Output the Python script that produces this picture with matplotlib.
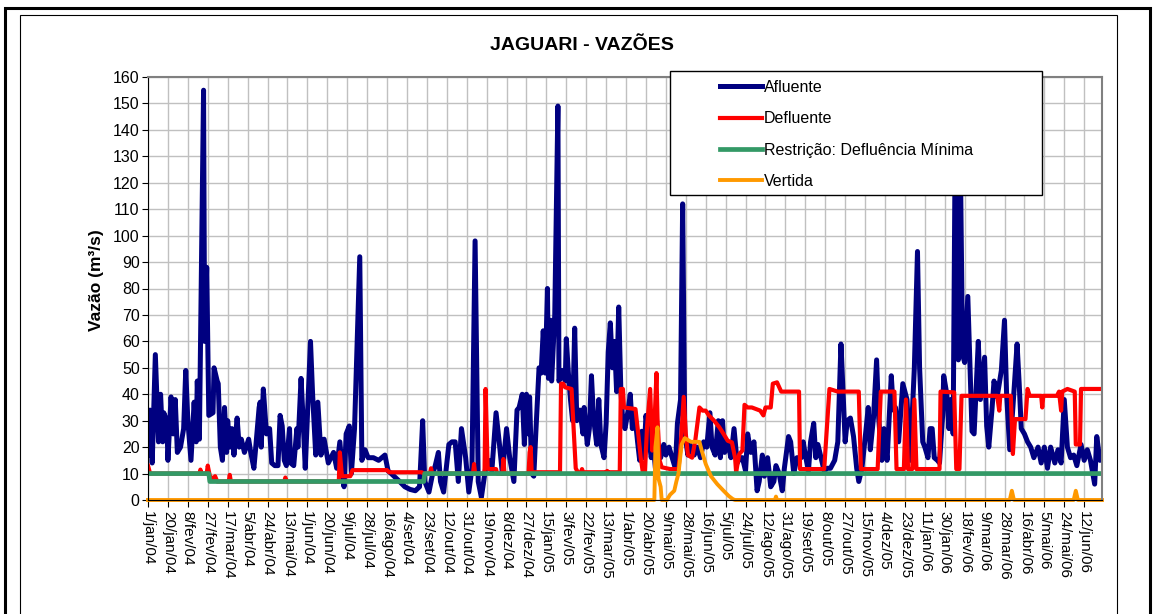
import matplotlib
matplotlib.use('Agg')
import matplotlib.pyplot as plt
from matplotlib.patches import Rectangle

plt.rcParams['font.family'] = ['Liberation Sans', 'DejaVu Sans']

# days counted from 1/jan/04, values in m3/s
af_day = [0, 2, 4, 7, 10, 12, 14, 15, 18, 19, 22, 24, 26, 28, 31, 34, 36, 38, 41, 44,
          46, 47, 49, 53, 54, 56, 58, 62, 63, 66, 67, 69, 71, 73, 75, 76, 78, 80, 82, 85,
          87, 89, 92, 96, 98, 101, 103, 106, 107, 108, 110, 113, 116, 118, 121, 124, 126, 128, 130, 132,
          135, 136, 139, 142, 143, 146, 148, 150, 155, 157, 160, 162, 165, 168, 172, 177, 180, 183, 186, 187,
          189, 192, 194, 197, 202, 204, 207, 210, 215, 220, 226, 229, 232, 240, 245, 250, 255, 259, 262, 264,
          268, 271, 274, 277, 279, 282, 287, 290, 293, 296, 299, 303, 306, 309, 312, 315, 318, 322, 325, 328,
          332, 335, 338, 342, 345, 349, 352, 354, 357, 359, 361, 363, 364, 366, 368, 370, 373, 375, 377, 379,
          381, 382, 384, 385, 388, 391, 392, 395, 398, 399, 401, 403, 405, 407, 409, 412, 415, 416, 419, 421,
          423, 425, 428, 430, 432, 435, 437, 439, 441, 443, 445, 447, 449, 451, 453, 455, 458, 460, 462, 464,
          467, 469, 471, 473, 475, 477, 480, 482, 484, 487, 489, 492, 494, 497, 500, 503, 505, 508, 510, 512,
          515, 517, 521, 524, 527, 530, 533, 536, 538, 541, 544, 546, 548, 550, 553, 556, 559, 562, 565, 567,
          570, 572, 575, 578, 581, 583, 586, 588, 591, 594, 597, 599, 602, 605, 607, 611, 613, 616, 619, 623,
          625, 627, 630, 632, 635, 637, 639, 642, 645, 648, 651, 655, 658, 661, 662, 665, 667, 670, 673, 676,
          678, 681, 685, 687, 689, 692, 695, 697, 700, 702, 705, 709, 711, 713, 716, 720, 722, 724, 726, 727,
          731, 734, 736, 739, 741, 744, 746, 748, 750, 753, 755, 758, 759, 762, 764, 766, 768, 770, 773, 775,
          777, 779, 782, 786, 788, 792, 794, 798, 800, 802, 805, 807, 810, 814, 817, 819, 822, 825, 829, 831,
          833, 836, 839, 842, 845, 849, 852, 855, 858, 861, 865, 868, 871, 874, 877, 880, 883, 886, 890, 893,
          896, 899, 903, 905, 908, 910]
af_val = [17, 34, 14, 55, 22, 40, 22, 33, 30, 15, 39, 25, 38, 18, 20, 27, 49, 30, 15, 37,
          22, 45, 23, 155, 60, 88, 32, 33, 50, 45, 44, 20, 15, 35, 18, 30, 20, 27, 17, 31,
          20, 23, 18, 23, 18, 12, 21, 35, 37, 20, 42, 25, 27, 14, 13, 13, 32, 28, 15, 13,
          27, 14, 13, 27, 20, 46, 30, 12, 60, 40, 17, 37, 17, 23, 14, 18, 12, 22, 8, 5,
          25, 28, 10, 27, 92, 15, 19, 16, 16, 15, 17, 11, 10, 7, 5, 4, 3.5, 5, 30, 7,
          3, 9, 13, 18, 7, 3, 21, 22, 22, 7, 27, 16, 3, 12, 98, 7, 1, 12, 15, 11,
          33, 22, 10, 27, 16, 7, 34, 35, 40, 21, 40, 25, 39, 10, 9, 26, 50, 48, 64, 48,
          80, 46, 68, 45, 70, 149, 45, 49, 45, 61, 48, 38, 30, 65, 30, 34, 25, 35, 21, 27,
          47, 31, 21, 38, 21, 16, 29, 56, 67, 50, 60, 41, 73, 42, 29, 27, 34, 40, 27, 34,
          22, 15, 26, 16, 32, 26, 16, 21, 12, 20, 16, 21, 17, 20, 16, 12, 29, 38, 112, 25,
          17, 21, 17, 20, 16, 22, 20, 33, 20, 17, 30, 16, 30, 18, 22, 16, 27, 14, 16, 16,
          11, 25, 18, 22, 3.5, 7, 17, 9, 16, 5, 7, 13, 10, 3.5, 12, 24, 22, 10, 16, 16,
          22, 17, 11, 22, 29, 16, 21, 16, 11, 12, 12, 15, 22, 59, 50, 22, 30, 31, 24, 12,
          7, 12, 27, 35, 19, 31, 53, 31, 15, 27, 15, 47, 34, 35, 22, 44, 41, 38, 22, 15,
          50, 94, 50, 22, 20, 16, 27, 27, 16, 15, 14, 32, 47, 40, 27, 38, 25, 138, 53, 125,
          55, 52, 77, 26, 25, 60, 38, 54, 28, 20, 34, 45, 39, 49, 68, 40, 19, 35, 59, 44,
          27, 25, 22, 20, 16, 20, 14, 20, 12, 20, 14, 19, 14, 38, 20, 16, 17, 13, 21, 15,
          19, 15, 6, 24, 15, 16]

df_day = [0, 2, 49, 50, 51, 56, 57, 59, 62, 64, 66, 77, 78, 79, 130, 131, 132, 182, 183, 185,
          193, 195, 228, 230, 261, 263, 269, 270, 271, 310, 311, 312, 321, 322, 324, 325, 332, 333, 338, 339,
          340, 363, 364, 365, 366, 393, 394, 396, 398, 404, 408, 410, 413, 414, 415, 437, 438, 439, 450, 451,
          453, 454, 465, 468, 470, 472, 474, 476, 479, 481, 483, 485, 486, 488, 490, 498, 506, 508, 511, 513,
          515, 519, 522, 526, 529, 532, 535, 540, 545, 549, 553, 557, 560, 561, 564, 567, 569, 572, 576, 584,
          587, 589, 594, 596, 600, 604, 621, 622, 645, 650, 658, 678, 680, 696, 699, 712, 714, 721, 723, 725,
          729, 731, 733, 755, 756, 769, 771, 774, 776, 810, 812, 813, 823, 825, 827, 837, 839, 841, 852, 853,
          854, 867, 869, 871, 872, 877, 884, 885, 889, 890, 910]
df_val = [13, 10, 10, 11.5, 10, 10, 13, 9, 8, 9, 7, 7, 9.5, 7, 7, 8.5, 7, 7, 18, 9,
          9, 11.3, 11.3, 10.5, 10.5, 10, 10, 12, 10, 10, 13.6, 10, 10, 42, 12, 11.7, 11.7, 10, 10, 15.5,
          10, 10, 18, 20, 10.5, 10.5, 44, 44, 42.6, 42, 12, 10.5, 10.5, 11.7, 10.5, 10.5, 11, 10.5, 10.5, 42,
          42, 35, 34.4, 23.7, 16, 10.5, 10.5, 27.5, 42, 18.7, 27.5, 48, 31, 15, 12.4, 11.7, 11.7, 20, 39, 25,
          17, 16, 22.4, 35, 33.8, 33.8, 32, 30, 27.5, 25, 22.4, 21.8, 16, 10.5, 17.4, 18.7, 36, 35, 35, 33.8,
          32, 35, 35, 44, 44.5, 41, 41, 11.7, 11.7, 42, 41, 41, 11.7, 11.7, 41, 41, 11.7, 11.7, 38, 11.7,
          11.7, 38, 11.7, 11.7, 41, 40.7, 11.7, 11.7, 39.4, 39.4, 33.8, 39.4, 39.4, 17.4, 30.6, 30.6, 42, 39.4, 39.4, 35,
          39.4, 39.4, 41, 33.8, 41, 42, 41, 21, 21, 42, 42]

rest_day = [0, 58, 59, 263, 264, 910]
rest_val = [10, 10, 7, 7, 10, 10]

vert_day = [0, 483, 484, 486, 487, 489, 490, 495, 498, 502, 504, 506, 509, 512, 518, 526, 528, 532, 537, 543,
            549, 554, 558, 560, 598, 599, 600, 822, 824, 826, 883, 885, 887, 910]
vert_val = [0, 0, 20, 27.5, 8, 5, 0, 0, 2, 3.5, 7, 10, 21, 23.4, 22, 22, 19, 13.6, 9, 6,
            3.5, 1.5, 0.3, 0, 0, 1.3, 0, 0, 3.5, 0, 0, 3.5, 0, 0]

tick_labels = ['1/jan/04', '20/jan/04', '8/fev/04', '27/fev/04', '17/mar/04', '5/abr/04',
               '24/abr/04', '13/mai/04', '1/jun/04', '20/jun/04', '9/jul/04', '28/jul/04',
               '16/ago/04', '4/set/04', '23/set/04', '12/out/04', '31/out/04', '19/nov/04',
               '8/dez/04', '27/dez/04', '15/jan/05', '3/fev/05', '22/fev/05', '13/mar/05',
               '1/abr/05', '20/abr/05', '9/mai/05', '28/mai/05', '16/jun/05', '5/jul/05',
               '24/jul/05', '12/ago/05', '31/ago/05', '19/set/05', '8/out/05', '27/out/05',
               '15/nov/05', '4/dez/05', '23/dez/05', '11/jan/06', '30/jan/06', '18/fev/06',
               '9/mar/06', '28/mar/06', '16/abr/06', '5/mai/06', '24/mai/06', '12/jun/06']
tick_days = [19 * i for i in range(len(tick_labels))]

W, H = 1153, 614
fig = plt.figure(figsize=(W / 100, H / 100), dpi=100)
ax = fig.add_axes([148 / W, 1 - 500 / H, (1102 - 148) / W, (500 - 77) / H])

l1, = ax.plot(af_day, af_val, color='#000080', lw=3.6, solid_joinstyle='round')
l2, = ax.plot(df_day, df_val, color='#ff0000', lw=3.0, solid_joinstyle='round')
l3, = ax.plot(rest_day, rest_val, color='#339966', lw=3.4)
l4, = ax.plot(vert_day, vert_val, color='#ff9900', lw=2.8, clip_on=False)

ax.set_xlim(0, 910)
ax.set_ylim(0, 160)
ax.set_yticks(range(0, 161, 10))
ax.set_xticks(tick_days)
ax.set_xticklabels(tick_labels, rotation=-90, fontsize=11)
ax.tick_params(axis='y', labelsize=11.5, length=4, pad=2)
ax.tick_params(axis='x', length=5, pad=3)
ax.grid(color='#c0c0c0', lw=1)
ax.set_axisbelow(True)
for s in ['top', 'right']:
    ax.spines[s].set_color('#808080')
    ax.spines[s].set_linewidth(1.5)

fig.text(582 / W, 1 - 45 / H, 'JAGUARI - VAZÕES', ha='center', va='center',
         fontsize=14, fontweight='bold')
fig.text(97 / W, 1 - 280 / H, 'Vazão (m³/s)', ha='center', va='center',
         rotation=90, fontsize=12.5, fontweight='bold')

# legend box
fig.add_artist(Rectangle((670 / W, 1 - 195 / H), (1042 - 670) / W, (195 - 71) / H,
                         transform=fig.transFigure, facecolor='white', edgecolor='black',
                         lw=1, zorder=2))
fig.legend([l1, l2, l3, l4], ['Afluente', 'Defluente', 'Restrição: Defluência Mínima', 'Vertida'],
           loc='upper left', bbox_to_anchor=(720 / W, 1 - 80 / H), frameon=False,
           fontsize=11.5, handlelength=2.6, handletextpad=0.15, labelspacing=1.02,
           borderpad=0, borderaxespad=0)

# chart frames
fig.add_artist(Rectangle((20 / W, -0.2), (1117 - 20) / W, 1.2 - 15 / H,
                         transform=fig.transFigure, fill=False, edgecolor='black', lw=0.8))
fig.add_artist(Rectangle((5 / W, -0.2), (1150 - 5) / W, 1.2 - 8 / H,
                         transform=fig.transFigure, fill=False, edgecolor='black', lw=2.2))

fig.savefig('out.png', dpi=100)
